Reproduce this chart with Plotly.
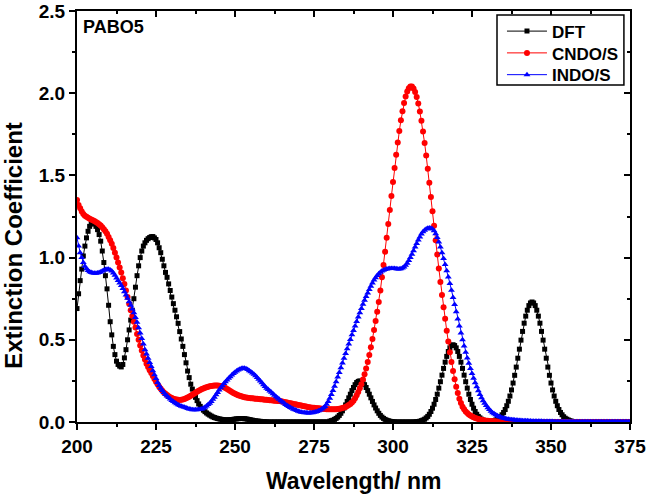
import numpy as np
import plotly.graph_objects as go

# wavelength grid of the computed spectra (nm, 0.5 nm step)
wavelength = np.arange(200.0, 375.01, 0.5)

# extinction coefficient, 10 points (5 nm) per row
dft = [
    0.69, 0.78, 0.86, 0.93, 1.01, 1.07, 1.12, 1.16, 1.19, 1.205,  # 200
    1.21, 1.205, 1.19, 1.17, 1.14, 1.10, 1.04, 0.97, 0.89, 0.81,  # 205
    0.71, 0.61, 0.53, 0.46, 0.41, 0.37, 0.35, 0.34, 0.335, 0.35,  # 210
    0.39, 0.44, 0.50, 0.56, 0.62, 0.68, 0.75, 0.82, 0.89, 0.95,  # 215
    1.00, 1.04, 1.07, 1.09, 1.105, 1.115, 1.122, 1.127, 1.128, 1.12,  # 220
    1.11, 1.09, 1.06, 1.03, 0.99, 0.95, 0.91, 0.88, 0.84, 0.80,  # 225
    0.76, 0.72, 0.68, 0.64, 0.60, 0.55, 0.505, 0.46, 0.41, 0.36,  # 230
    0.31, 0.27, 0.23, 0.20, 0.17, 0.15, 0.13, 0.11, 0.095, 0.082,  # 235
    0.072, 0.063, 0.055, 0.048, 0.042, 0.036, 0.031, 0.027, 0.024, 0.021,  # 240
    0.019, 0.017, 0.015, 0.014, 0.013, 0.013, 0.013, 0.014, 0.015, 0.016,  # 245
    0.018, 0.019, 0.020, 0.021, 0.021, 0.021, 0.020, 0.019, 0.017, 0.015,  # 250
    0.013, 0.011, 0.009, 0.007, 0.006, 0.005, 0.004, 0.003, 0.002, 0.002,  # 255
    0.001, 0, 0, 0, 0, 0, 0, 0, 0, 0,  # 260
    0, 0, 0, 0, 0, 0, 0, 0, 0, 0,  # 265
    0, 0, 0, 0, 0, 0, 0, 0, 0, 0,  # 270
    0, 0, 0, 0, 0, 0, 0, 0, 0, 0,  # 275
    0.005, 0.008, 0.011, 0.016, 0.022, 0.030, 0.040, 0.053, 0.068, 0.085,  # 280
    0.104, 0.125, 0.147, 0.169, 0.191, 0.210, 0.227, 0.240, 0.247, 0.250,  # 285
    0.247, 0.240, 0.227, 0.210, 0.191, 0.169, 0.147, 0.125, 0.104, 0.085,  # 290
    0.068, 0.053, 0.040, 0.030, 0.022, 0.016, 0.011, 0.008, 0.005, 0.003,  # 295
    0.002, 0.001, 0, 0, 0, 0, 0, 0, 0, 0,  # 300
    0, 0, 0, 0, 0.001, 0.002, 0.003, 0.005, 0.008, 0.012,  # 305
    0.017, 0.025, 0.034, 0.047, 0.064, 0.084, 0.108, 0.137, 0.169, 0.206,  # 310
    0.245, 0.285, 0.326, 0.364, 0.399, 0.429, 0.451, 0.465, 0.470, 0.465,  # 315
    0.451, 0.429, 0.399, 0.364, 0.326, 0.285, 0.245, 0.206, 0.169, 0.137,  # 320
    0.108, 0.084, 0.064, 0.047, 0.034, 0.025, 0.017, 0.012, 0.008, 0.005,  # 325
    0.004, 0.003, 0.004, 0.005, 0.008, 0.012, 0.017, 0.023, 0.032, 0.044,  # 330
    0.058, 0.076, 0.099, 0.126, 0.158, 0.195, 0.237, 0.284, 0.334, 0.388,  # 335
    0.443, 0.498, 0.551, 0.601, 0.644, 0.680, 0.708, 0.724, 0.730, 0.724,  # 340
    0.708, 0.680, 0.644, 0.601, 0.551, 0.498, 0.443, 0.388, 0.334, 0.284,  # 345
    0.237, 0.195, 0.158, 0.126, 0.099, 0.076, 0.058, 0.044, 0.032, 0.023,  # 350
    0.017, 0.012, 0.008, 0.005, 0.003, 0.002, 0.001, 0, 0, 0,  # 355
    0, 0, 0, 0, 0, 0, 0, 0, 0, 0,  # 360
    0, 0, 0, 0, 0, 0, 0, 0, 0, 0,  # 365
    0, 0, 0, 0, 0, 0, 0, 0, 0, 0,  # 370
    0,  # 375
]

cndo = [
    1.35, 1.32, 1.30, 1.28, 1.265, 1.255, 1.248, 1.242, 1.237, 1.232,  # 200
    1.227, 1.222, 1.217, 1.21, 1.203, 1.195, 1.185, 1.173, 1.16, 1.145,  # 205
    1.125, 1.105, 1.085, 1.058, 1.03, 1.0, 0.97, 0.94, 0.91, 0.875,  # 210
    0.84, 0.80, 0.76, 0.72, 0.68, 0.645, 0.61, 0.575, 0.535, 0.50,  # 215
    0.465, 0.435, 0.405, 0.38, 0.355, 0.335, 0.315, 0.298, 0.28, 0.262,  # 220
    0.245, 0.23, 0.215, 0.202, 0.19, 0.18, 0.172, 0.164, 0.157, 0.151,  # 225
    0.146, 0.142, 0.139, 0.137, 0.135, 0.134, 0.135, 0.137, 0.140, 0.144,  # 230
    0.149, 0.154, 0.16, 0.166, 0.172, 0.178, 0.184, 0.19, 0.195, 0.20,  # 235
    0.204, 0.208, 0.211, 0.214, 0.217, 0.219, 0.221, 0.222, 0.222, 0.222,  # 240
    0.221, 0.219, 0.216, 0.212, 0.207, 0.201, 0.195, 0.189, 0.183, 0.177,  # 245
    0.172, 0.167, 0.163, 0.159, 0.156, 0.153, 0.151, 0.149, 0.147, 0.146,  # 250
    0.145, 0.144, 0.143, 0.142, 0.141, 0.14, 0.139, 0.138, 0.137, 0.136,  # 255
    0.135, 0.134, 0.133, 0.132, 0.131, 0.13, 0.129, 0.128, 0.127, 0.126,  # 260
    0.124, 0.122, 0.12, 0.118, 0.116, 0.114, 0.112, 0.11, 0.108, 0.106,  # 265
    0.104, 0.102, 0.10, 0.098, 0.096, 0.094, 0.092, 0.09, 0.088, 0.087,  # 270
    0.086, 0.085, 0.084, 0.083, 0.082, 0.081, 0.08, 0.079, 0.078, 0.077,  # 275
    0.077, 0.077, 0.077, 0.077, 0.078, 0.079, 0.080, 0.082, 0.085, 0.088,  # 280
    0.092, 0.097, 0.103, 0.110, 0.118, 0.130, 0.145, 0.163, 0.183, 0.205,  # 285
    0.230, 0.258, 0.29, 0.326, 0.365, 0.408, 0.455, 0.505, 0.56, 0.615,  # 290
    0.67, 0.73, 0.80, 0.88, 0.955, 1.035, 1.12, 1.205, 1.29, 1.375,  # 295
    1.46, 1.545, 1.625, 1.70, 1.77, 1.835, 1.89, 1.94, 1.98, 2.01,  # 300
    2.03, 2.04, 2.04, 2.028, 2.008, 1.977, 1.937, 1.888, 1.832, 1.767,  # 305
    1.697, 1.621, 1.540, 1.456, 1.369, 1.282, 1.193, 1.105, 1.019, 0.934,  # 310
    0.852, 0.773, 0.698, 0.628, 0.555, 0.49, 0.425, 0.365, 0.31, 0.26,  # 315
    0.215, 0.176, 0.142, 0.115, 0.093, 0.077, 0.064, 0.054, 0.046, 0.039,  # 320
    0.034, 0.029, 0.025, 0.021, 0.018, 0.015, 0.013, 0.011, 0.009, 0.008,  # 325
    0.007, 0.006, 0.005, 0.004, 0.004, 0.003, 0.003, 0.002, 0.002, 0.002,  # 330
    0.001, 0.001, 0.001, 0, 0, 0, 0, 0, 0, 0,  # 335
    0, 0, 0, 0, 0, 0, 0, 0, 0, 0,  # 340
    0, 0, 0, 0, 0, 0, 0, 0, 0, 0,  # 345
    0, 0, 0, 0, 0, 0, 0, 0, 0, 0,  # 350
    0, 0, 0, 0, 0, 0, 0, 0, 0, 0,  # 355
    0, 0, 0, 0, 0, 0, 0, 0, 0, 0,  # 360
    0, 0, 0, 0, 0, 0, 0, 0, 0, 0,  # 365
    0, 0, 0, 0, 0, 0, 0, 0, 0, 0,  # 370
    0,  # 375
]

indo = [
    1.12, 1.07, 1.03, 1.0, 0.97, 0.948, 0.932, 0.921, 0.914, 0.91,  # 200
    0.907, 0.905, 0.905, 0.906, 0.909, 0.913, 0.918, 0.923, 0.927, 0.929,  # 205
    0.929, 0.925, 0.918, 0.906, 0.892, 0.876, 0.86, 0.845, 0.83, 0.812,  # 210
    0.793, 0.773, 0.752, 0.731, 0.71, 0.688, 0.664, 0.636, 0.606, 0.574,  # 215
    0.542, 0.508, 0.474, 0.44, 0.414, 0.388, 0.362, 0.337, 0.312, 0.287,  # 220
    0.264, 0.241, 0.222, 0.206, 0.192, 0.179, 0.168, 0.158, 0.149, 0.14,  # 225
    0.131, 0.124, 0.117, 0.111, 0.105, 0.1, 0.096, 0.093, 0.089, 0.086,  # 230
    0.082, 0.079, 0.077, 0.075, 0.074, 0.074, 0.075, 0.076, 0.077, 0.079,  # 235
    0.083, 0.089, 0.097, 0.106, 0.114, 0.125, 0.138, 0.151, 0.165, 0.18,  # 240
    0.195, 0.208, 0.221, 0.234, 0.245, 0.256, 0.266, 0.276, 0.286, 0.295,  # 245
    0.303, 0.31, 0.316, 0.321, 0.325, 0.327, 0.327, 0.324, 0.319, 0.312,  # 250
    0.305, 0.298, 0.29, 0.281, 0.271, 0.26, 0.249, 0.238, 0.227, 0.216,  # 255
    0.205, 0.197, 0.189, 0.181, 0.172, 0.163, 0.154, 0.146, 0.138, 0.13,  # 260
    0.122, 0.115, 0.107, 0.1, 0.094, 0.088, 0.083, 0.078, 0.074, 0.07,  # 265
    0.066, 0.063, 0.06, 0.058, 0.057, 0.056, 0.055, 0.055, 0.056, 0.057,  # 270
    0.059, 0.061, 0.064, 0.068, 0.073, 0.079, 0.086, 0.095, 0.108, 0.125,  # 275
    0.145, 0.168, 0.192, 0.218, 0.245, 0.273, 0.301, 0.33, 0.359, 0.388,  # 280
    0.417, 0.446, 0.474, 0.502, 0.53, 0.557, 0.584, 0.611, 0.638, 0.665,  # 285
    0.691, 0.716, 0.74, 0.763, 0.785, 0.806, 0.826, 0.845, 0.863, 0.878,  # 290
    0.891, 0.902, 0.911, 0.918, 0.923, 0.927, 0.93, 0.932, 0.933, 0.934,  # 295
    0.934, 0.933, 0.932, 0.931, 0.931, 0.932, 0.936, 0.943, 0.953, 0.966,  # 300
    0.982, 1.0, 1.02, 1.042, 1.064, 1.086, 1.107, 1.126, 1.143, 1.157,  # 305
    1.167, 1.174, 1.178, 1.18, 1.179, 1.174, 1.163, 1.145, 1.122, 1.095,  # 310
    1.064, 1.03, 0.995, 0.958, 0.92, 0.882, 0.843, 0.801, 0.758, 0.714,  # 315
    0.67, 0.627, 0.584, 0.542, 0.501, 0.462, 0.425, 0.39, 0.357, 0.325,  # 320
    0.295, 0.266, 0.239, 0.214, 0.19, 0.168, 0.148, 0.13, 0.114, 0.1,  # 325
    0.087, 0.076, 0.066, 0.057, 0.05, 0.044, 0.038, 0.034, 0.03, 0.026,  # 330
    0.023, 0.021, 0.019, 0.017, 0.015, 0.014, 0.013, 0.012, 0.011, 0.01,  # 335
    0.009, 0.009, 0.008, 0.008, 0.007, 0.007, 0.006, 0.006, 0.005, 0.005,  # 340
    0.005, 0.004, 0.004, 0.004, 0.004, 0.003, 0.003, 0.003, 0.003, 0.003,  # 345
    0.003, 0.003, 0.002, 0.002, 0.002, 0.002, 0.002, 0.002, 0.002, 0.002,  # 350
    0.002, 0.002, 0.002, 0.001, 0.001, 0.001, 0.001, 0.001, 0.001, 0.001,  # 355
    0.001, 0.001, 0.001, 0.001, 0.001, 0.001, 0.001, 0.001, 0.001, 0.001,  # 360
    0.001, 0.001, 0.001, 0.001, 0.001, 0.001, 0.001, 0.001, 0.001, 0.001,  # 365
    0.001, 0.001, 0.001, 0.001, 0.001, 0.001, 0.001, 0.001, 0.001, 0.001,  # 370
    0.001,  # 375
]

x_ticks = [200, 225, 250, 275, 300, 325, 350, 375]
y_ticks = [0.0, 0.5, 1.0, 1.5, 2.0, 2.5]

for name, vals in (("dft", dft), ("cndo", cndo), ("indo", indo)):
    if len(vals) != len(wavelength):
        raise ValueError(f"{name}: {len(vals)} values, expected {len(wavelength)}")

FONT = "Liberation Sans, Arial, sans-serif"

fig = go.Figure()
# one legend per series so the rows sit as close together as in the original;
# INDO/S sits on the (identical) top/right axes so those frame axes get drawn
series = [
    ("DFT", dft, "black", "square", 5, "legend", 0.950, "x", "y"),
    ("CNDO/S", cndo, "#ff0000", "circle", 6, "legend2", 0.897, "x", "y"),
    ("INDO/S", indo, "#0000ff", "triangle-up", 6, "legend3", 0.844, "x2", "y2"),
]
legends = {}
for name, vals, color, symbol, size, leg, leg_y, xa, ya in series:
    fig.add_trace(go.Scatter(
        x=wavelength,
        y=vals,
        name=name,
        mode="lines+markers",
        line=dict(color=color, width=1),
        marker=dict(color=color, symbol=symbol, size=size, line=dict(width=0)),
        legend=leg,
        xaxis=xa,
        yaxis=ya,
    ))
    legends[leg] = dict(
        x=0.7685, xanchor="left",
        y=leg_y, yanchor="middle",
        bgcolor="rgba(0,0,0,0)",
        borderwidth=0,
        font=dict(size=17, weight="bold", family=FONT),
        itemwidth=40,
    )

axis_common = dict(
    showgrid=False,
    zeroline=False,
    automargin=False,
    linecolor="black",
    linewidth=2,
    tickcolor="black",
    tickwidth=1.5,
    ticklen=6,
)

fig.update_layout(
    width=646,
    height=497,
    margin=dict(l=77, r=16, t=11, b=75),
    paper_bgcolor="white",
    plot_bgcolor="white",
    font=dict(family=FONT, color="black"),
    showlegend=True,
    **legends,
    # legend frame as drawn in the original figure
    shapes=[
        dict(type="rect", xref="paper", yref="paper",
             x0=0.7595, x1=0.989, y0=0.820, y1=0.990,
             line=dict(color="black", width=1.5), fillcolor="white", layer="above"),
    ],
    xaxis=dict(
        **axis_common,
        range=[200, 375],
        tickvals=x_ticks,
        ticks="outside",
        ticklabeloverflow="allow",
        tickfont=dict(size=19, weight="bold", family=FONT),
        minor=dict(ticks="outside", ticklen=3, tickwidth=1.5, tickcolor="black",
                   dtick=12.5, tick0=200, showgrid=False),
    ),
    xaxis2=dict(
        **axis_common,
        overlaying="x", side="top", anchor="y2",
        range=[200, 375],
        tickvals=x_ticks,
        ticks="inside",
        showticklabels=False,
        minor=dict(ticks="inside", ticklen=3, tickwidth=1.5, tickcolor="black",
                   dtick=12.5, tick0=200, showgrid=False),
    ),
    yaxis=dict(
        **axis_common,
        range=[0, 2.5],
        tickvals=y_ticks,
        tickformat=".1f",
        ticks="outside",
        ticklabeloverflow="allow",
        tickfont=dict(size=19, weight="bold", family=FONT),
        minor=dict(ticks="outside", ticklen=3, tickwidth=1.5, tickcolor="black",
                   dtick=0.25, tick0=0, showgrid=False),
    ),
    yaxis2=dict(
        **axis_common,
        overlaying="y", side="right", anchor="x2",
        range=[0, 2.5],
        tickvals=y_ticks,
        ticks="inside",
        showticklabels=False,
        minor=dict(ticks="inside", ticklen=3, tickwidth=1.5, tickcolor="black",
                   dtick=0.25, tick0=0, showgrid=False),
    ),
    annotations=[
        dict(text="PABO5", xref="paper", yref="paper", x=0.007, y=0.962,
             xanchor="left", yanchor="middle", showarrow=False,
             font=dict(size=18, weight="bold", family=FONT)),
        dict(text="Wavelength/ nm", xref="paper", yref="paper", x=0.5, y=-0.107,
             xanchor="center", yanchor="top", showarrow=False,
             font=dict(size=23, weight="bold", family=FONT)),
        dict(text="Extinction Coefficient", xref="paper", yref="paper",
             x=-0.114, y=0.431, xanchor="center", yanchor="middle",
             textangle=-90, showarrow=False,
             font=dict(size=24, weight="bold", family=FONT)),
    ],
)

# drop the default 8 px page margin so the figure fills the window exactly
fig.write_html(
    "out.html",
    config={"displayModeBar": False},
    post_script="document.body.style.margin = '0';",
)
